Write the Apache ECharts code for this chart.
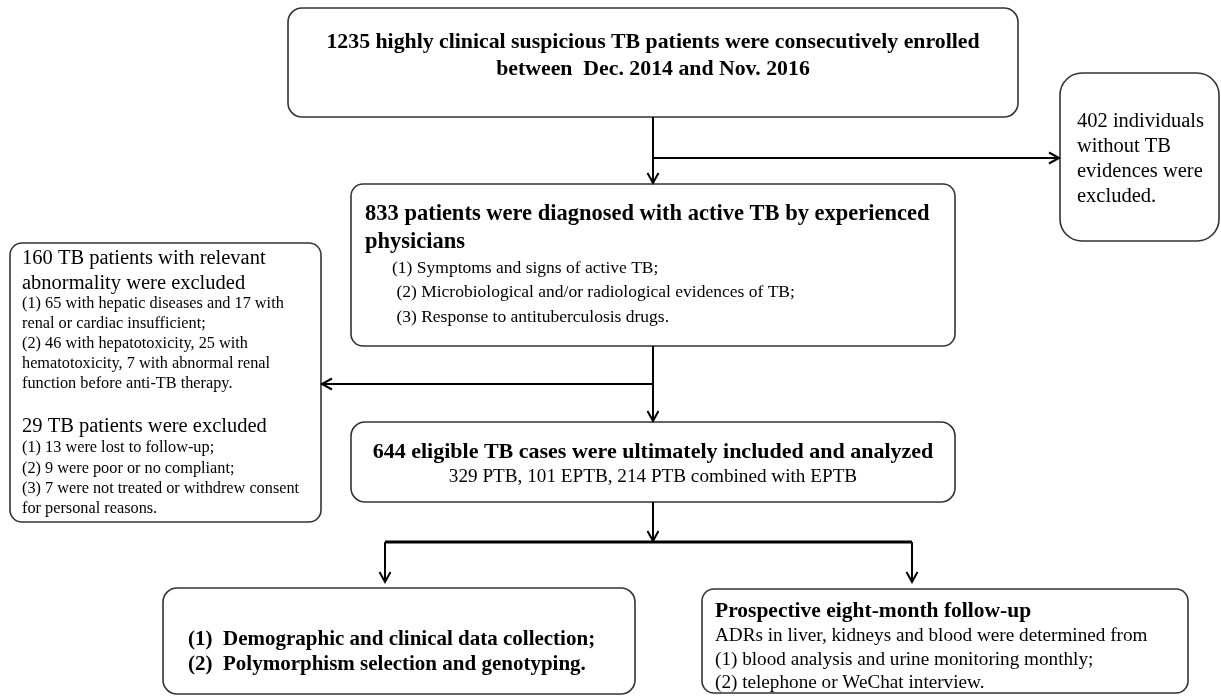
<!DOCTYPE html>
<html><head><meta charset="utf-8">
<script src="https://cdn.jsdelivr.net/npm/echarts@6/dist/echarts.min.js"></script>
<style>html,body{margin:0;padding:0;background:#fff}#c{width:1221px;height:696px}</style>
</head><body><div id="c"></div>
<script>
// ---- texts (data) ----
const enrolledLines = ["1235 highly clinical suspicious TB patients were consecutively enrolled", "between  Dec. 2014 and Nov. 2016"];
const noTbLines = ["402 individuals", "without TB", "evidences were", "excluded."];
const diagnosedTitle = ["833 patients were diagnosed with active TB by experienced", "physicians"];
const diagnosedCriteria = ["(1) Symptoms and signs of active TB;", " (2) Microbiological and/or radiological evidences of TB;", " (3) Response to antituberculosis drugs."];
const abnormalTitle = ["160 TB patients with relevant", "abnormality were excluded"];
const abnormalItems = ["(1) 65 with hepatic diseases and 17 with", "renal or cardiac insufficient;", "(2) 46 with hepatotoxicity, 25 with", "hematotoxicity, 7 with abnormal renal", "function before anti-TB therapy."];
const lostTitle = ["29 TB patients were excluded"];
const lostItems = ["(1) 13 were lost to follow-up;", "(2) 9 were poor or no compliant;", "(3) 7 were not treated or withdrew consent", "for personal reasons."];
const includedTitle = ["644 eligible TB cases were ultimately included and analyzed"];
const includedDetail = ["329 PTB, 101 EPTB, 214 PTB combined with EPTB"];
const analysisLines = ["(1)  Demographic and clinical data collection;", "(2)  Polymorphism selection and genotyping."];
const followTitle = ["Prospective eight-month follow-up"];
const followItems = ["ADRs in liver, kidneys and blood were determined from", "(1) blood analysis and urine monitoring monthly;", "(2) telephone or WeChat interview."];

// ---- layout ----
const SERIF = "'Liberation Serif', 'Times New Roman', serif";
const boxes = [
  {x: 288, y: 8, w: 730, h: 109, r: 14},
  {x: 1060, y: 73, w: 159, h: 168, r: 22},
  {x: 351, y: 184, w: 604, h: 162, r: 12},
  {x: 10, y: 243, w: 311, h: 279, r: 12},
  {x: 351, y: 422, w: 604, h: 80, r: 14},
  {x: 163, y: 588, w: 472, h: 106, r: 14},
  {x: 702, y: 589, w: 486, h: 104, r: 12}
];

const elements = [];
boxes.forEach(b => elements.push({
  type: 'rect', shape: {x: b.x, y: b.y, width: b.w, height: b.h, r: b.r},
  style: {fill: '#fff', stroke: '#333', lineWidth: 1.6}, z: 1
}));

function addLines(lines, x, y0, dy, size, bold, align) {
  lines.forEach((t, i) => elements.push({
    type: 'text', z: 3,
    style: {text: t, x: x, y: y0 + i * dy, font: (bold ? 'bold ' : '') + size + 'px ' + SERIF,
      fill: '#000', align: align || 'left', verticalAlign: 'middle'}
  }));
}
addLines(enrolledLines, 653, 42, 27, 21.8, true, 'center');
addLines(noTbLines, 1077, 122, 25, 20.5, false);
addLines(diagnosedTitle, 365, 214, 28, 22.5, true);
addLines(diagnosedCriteria, 392, 268, 24.5, 17.5, false);
addLines(abnormalTitle, 22, 259, 25, 20.5, false);
addLines(abnormalItems, 22, 304, 20, 16.3, false);
addLines(lostTitle, 22, 427, 25, 20.5, false);
addLines(lostItems, 22, 448, 20.3, 16.3, false);
addLines(includedTitle, 653, 452, 25, 22, true, 'center');
addLines(includedDetail, 653, 477, 25, 19.2, false, 'center');
addLines(analysisLines, 188, 640, 25, 21, true);
addLines(followTitle, 715, 611, 24, 21.5, true);
addLines(followItems, 715, 636, 23.5, 19.2, false);

function seg(pts, w) {
  elements.push({type: 'polyline', z: 2, shape: {points: pts}, style: {stroke: '#000', lineWidth: w || 2, fill: null}});
}
function arrowHead(x, y, dir) {
  const a = 5.5, l = 10;
  let pts;
  if (dir === 'down') pts = [[x - a, y - l], [x, y], [x + a, y - l]];
  if (dir === 'right') pts = [[x - l, y - a], [x, y], [x - l, y + a]];
  if (dir === 'left') pts = [[x + l, y - a], [x, y], [x + l, y + a]];
  seg(pts, 2);
}
seg([[653, 117], [653, 183]]); arrowHead(653, 183, 'down');
seg([[653, 158], [1059, 158]]); arrowHead(1059, 158, 'right');
seg([[653, 346], [653, 421]]); arrowHead(653, 421, 'down');
seg([[653, 384], [322, 384]]); arrowHead(322, 384, 'left');
seg([[653, 502], [653, 541]]); arrowHead(653, 541, 'down');
seg([[385, 542], [912, 542]], 3.2);
seg([[385, 542], [385, 582]]); arrowHead(385, 582, 'down');
seg([[912, 542], [912, 582]]); arrowHead(912, 582, 'down');

const chart = echarts.init(document.getElementById('c'), null, {renderer: 'canvas'});
chart.setOption({backgroundColor: '#fff', animation: false, graphic: {elements: elements}});
</script></body></html>
